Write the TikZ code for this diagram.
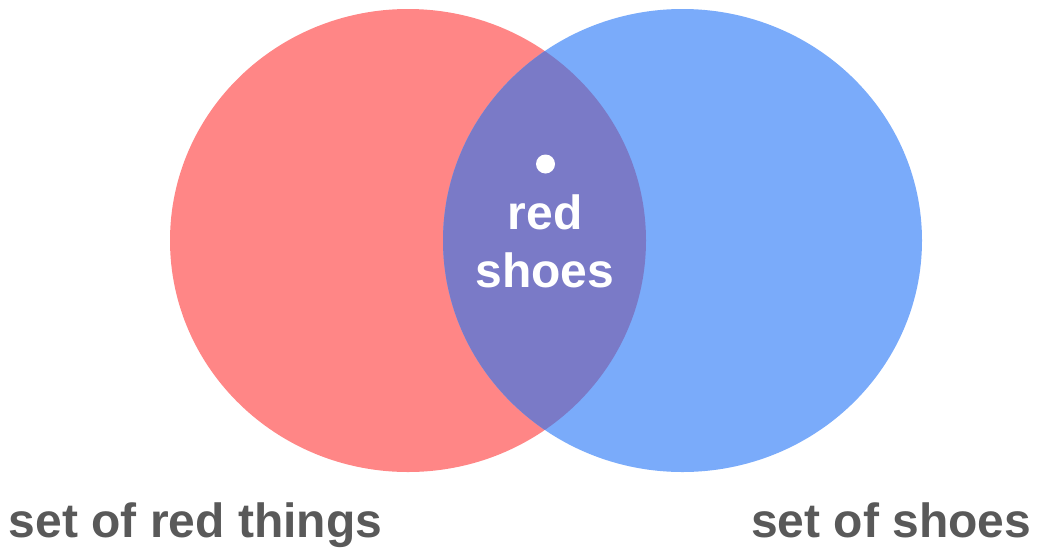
\documentclass[tikz,border=0pt]{standalone}
\usepackage{fontspec}
\setmainfont{Liberation Sans}
\definecolor{redset}{HTML}{FF8686}
\definecolor{blueset}{HTML}{7AABFA}
\definecolor{overlap}{HTML}{7A7AC7}
\definecolor{labelgray}{HTML}{595959}
\tikzset{
  setlabel/.style={inner sep=0pt, text=labelgray, font=\fontsize{48}{56}\selectfont\bfseries},
  innerlabel/.style={inner sep=0pt, text=white, align=center, font=\fontsize{48}{58}\selectfont\bfseries}
}
\begin{document}
\begin{tikzpicture}[x=1pt,y=-1pt]
\useasboundingbox (0,0) rectangle (1037,547);
\coordinate (rc) at (408,240.5);
\coordinate (bc) at (682.5,240.5);
\fill[redset] (rc) ellipse [x radius=238, y radius=231.5];
\fill[blueset] (bc) ellipse [x radius=239.5, y radius=231.5];
\begin{scope}
  \clip (rc) ellipse [x radius=238, y radius=231.5];
  \fill[overlap] (bc) ellipse [x radius=239.5, y radius=231.5];
\end{scope}
\fill[white] (545.5,164) circle (9.5);
\node[innerlabel, anchor=base] (red) at (545,229) {red};
\node[innerlabel, anchor=base] (shoes) at (545,287) {shoes};
\node[setlabel, anchor=base west] (lred) at (8.5,537) {set of red things};
\node[setlabel, anchor=base east] (lshoes) at (1031.5,537) {set of shoes};
\end{tikzpicture}
\end{document}
